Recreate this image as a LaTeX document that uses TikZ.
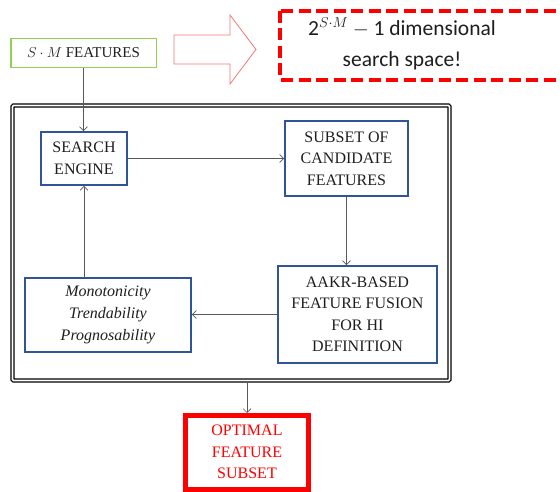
\documentclass[tikz,border=0pt]{standalone}
\usepackage{fontspec}
\setmainfont{Liberation Serif}
\newfontfamily\calibri{Carlito}
\usetikzlibrary{arrows.meta}
\definecolor{boxblue}{RGB}{47,85,151}
\definecolor{boxgreen}{RGB}{146,208,80}
\definecolor{arrowred}{RGB}{244,120,120}
\definecolor{textgray}{RGB}{30,30,30}

\begin{document}
\begin{tikzpicture}[x=1pt,y=-1pt,
    stage/.style={draw=boxblue,line width=1.8pt,align=center,inner sep=0pt,
      text=textgray,font=\fontsize{16}{21.5}\selectfont},
    link/.style={draw=black!65,line width=0.7pt,-{Straight Barb[length=4pt,width=8pt]}}]
    \clip (0,0) rectangle (560,492);
    % input features
    \node[draw=boxgreen,line width=1.5pt,minimum width=145.5pt,minimum height=29pt,
      inner sep=0pt,text=textgray,font=\fontsize{15}{18}\selectfont] (input) at (83.5,53)
      {$S\cdot M$ FEATURES};
    % hollow arrow
    \draw[arrowred,line width=0.8pt,fill=white] (174,35) -- (230,35) -- (230,15) -- (256,49.5)
      -- (230,84) -- (230,64) -- (174,64) -- cycle;
    % dashed search space box
    \draw[red,line width=4pt,dash pattern=on 12pt off 5.5pt] (280,11) rectangle (620,80);
    \node[align=center,text=textgray,font=\calibri\fontsize{21.5}{31}\selectfont] (space) at (402,44)
      {2$^{S\cdot M}-{}$1 dimensional\\search space!};
    % loop frame
    \node[draw=black,line width=1.3pt,double=white,double distance=1.6pt,rounded corners=1pt,
      minimum width=437pt,minimum height=275pt,inner sep=0pt] (loop) at (231,243) {};
    % stages
    \node[stage,minimum width=86pt,minimum height=53pt] (engine) at (84,158.5) {SEARCH\\ENGINE};
    \node[stage,minimum width=123pt,minimum height=75pt] (subset) at (346.5,158.5)
      {SUBSET OF\\CANDIDATE\\FEATURES};
    \node[stage,minimum width=159pt,minimum height=97pt] (aakr) at (357.5,314.5)
      {AAKR-BASED\\FEATURE FUSION\\FOR HI\\DEFINITION};
    \node[stage,minimum width=166pt,minimum height=74pt,font=\fontsize{16}{22}\selectfont\itshape] (mono) at (108,315)
      {Monotonicity\\Trendability\\Prognosability};
    % output
    \node[draw=red,line width=5pt,minimum width=123pt,minimum height=73.5pt,inner sep=0pt,
      align=center,text=red,font=\fontsize{16}{21.5}\selectfont] (optimal) at (247,452.25)
      {OPTIMAL\\FEATURE\\SUBSET};
    % connectors
    \draw[link] (input.south) -- (input.south |- engine.north);
    \draw[link] (engine.east) -- (subset.west);
    \draw[link] (subset.south) -- (subset.south |- aakr.north);
    \draw[link] (aakr.west) -- (aakr.west -| mono.east);
    \draw[link] (mono.north -| engine.south) -- (engine.south);
    \draw[link] (loop.south -| optimal.north) -- (optimal.north);
\end{tikzpicture}
\end{document}
